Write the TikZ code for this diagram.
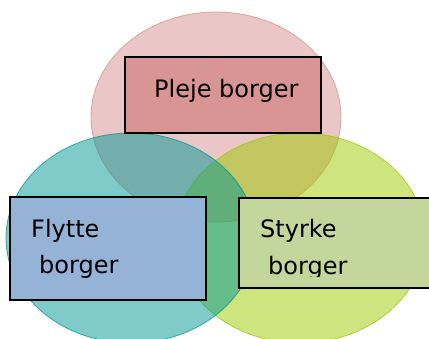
\documentclass[tikz,border=0pt]{standalone}
\usepackage{fontspec}
\setmainfont{DejaVu Sans}
\definecolor{pinkbase}{RGB}{213,141,141}
\definecolor{greenbase}{RGB}{155,201,0}
\definecolor{tealbase}{RGB}{0,151,147}
\definecolor{pinkbox}{RGB}{217,149,148}
\definecolor{bluebox}{RGB}{149,179,215}
\definecolor{greenbox}{RGB}{195,214,155}
\begin{document}
\begin{tikzpicture}[x=1pt,y=-1pt,
  venn/.style={fill=#1,fill opacity=0.5,draw=#1,draw opacity=0.75,line width=0.8pt},
  labelbox/.style={draw=black,line width=1.5pt,fill=#1},
  labeltext/.style={anchor=base west,inner sep=0pt,font=\fontsize{24}{28}\selectfont,text=black}]
  \useasboundingbox (0,0) rectangle (429,338);
  \clip (0,0) rectangle (429,338);
  % three overlapping circles
  \draw[venn=pinkbase]  (216,117) ellipse [x radius=125, y radius=105];
  \draw[venn=greenbase] (300,238) ellipse [x radius=125, y radius=105];
  \draw[venn=tealbase]  (131,238) ellipse [x radius=125, y radius=105];
  % label boxes
  \node[labelbox=pinkbox,  minimum width=196pt, minimum height=76pt, anchor=north west, inner sep=0pt] (pbox) at (124,56) {};
  \node[labelbox=bluebox,  minimum width=196pt, minimum height=103pt, anchor=north west, inner sep=0pt] (fbox) at (9,196) {};
  \node[labelbox=greenbox, minimum width=200pt, minimum height=90pt, anchor=north west, inner sep=0pt] (sbox) at (238,197) {};
  % texts
  \node[labeltext] (pleje) at (154,97) {Pleje borger};
  \node[labeltext] (flytte) at (31,237) {Flytte};
  \node[labeltext] (fborger) at (39,273.5) {borger};
  \node[labeltext] (styrke) at (260,237) {Styrke};
  \begin{scope}
    \clip (238,250) rectangle (429,276.5);
    \node[labeltext] (sborger) at (268,274.5) {borger};
  \end{scope}
\end{tikzpicture}
\end{document}
